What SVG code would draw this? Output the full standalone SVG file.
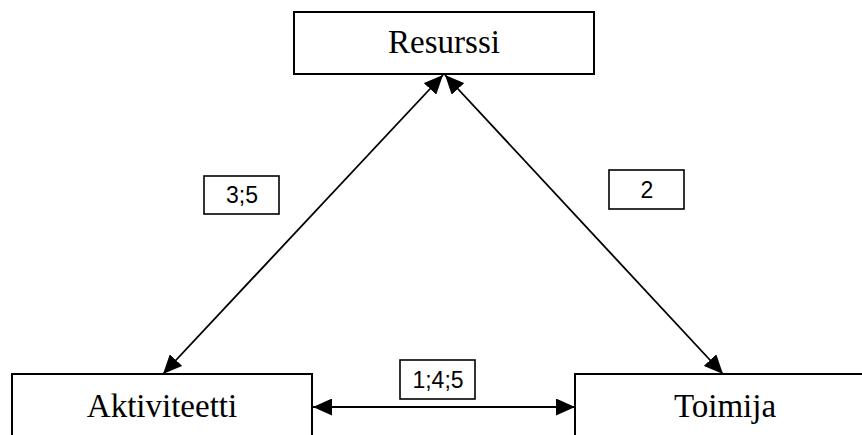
<svg xmlns="http://www.w3.org/2000/svg" width="862" height="435" viewBox="0 0 862 435">
  <style>
    .node rect { fill: #ffffff; stroke: #000000; stroke-width: 2; }
    .node text { font-family: "Liberation Serif", "Times New Roman", serif; font-size: 33px; fill: #000000; text-anchor: middle; }
    .tag rect { fill: #ffffff; stroke: #000000; stroke-width: 1.6; }
    .tag text { font-family: "Liberation Sans", Arial, sans-serif; font-size: 23px; fill: #000000; text-anchor: middle; }
    .edge { stroke: #000000; stroke-width: 1.8; fill: none; marker-start: url(#head); marker-end: url(#head); }
  </style>
  <defs>
    <marker id="head" viewBox="0 0 19 17" refX="19" refY="8.5" markerWidth="19" markerHeight="17" markerUnits="userSpaceOnUse" orient="auto-start-reverse">
      <path d="M0,0 L19,8.5 L0,17 Z" fill="#000000"/>
    </marker>
  </defs>

  <rect width="862" height="435" fill="#ffffff"/>

  <g id="connectors">
    <line class="edge" x1="163" y1="374" x2="443" y2="75"/>
    <line class="edge" x1="445" y1="75" x2="723" y2="374"/>
    <line class="edge" x1="313" y1="407" x2="575" y2="407"/>
  </g>

  <g id="resurssi" class="node">
    <rect x="294" y="12" width="300" height="62"/>
    <text x="444" y="53">Resurssi</text>
  </g>

  <g id="aktiviteetti" class="node">
    <rect x="12" y="374" width="300" height="80"/>
    <text x="162" y="417">Aktiviteetti</text>
  </g>

  <g id="toimija" class="node">
    <rect x="575" y="374" width="300" height="80"/>
    <text x="725" y="417">Toimija</text>
  </g>

  <g id="label-3-5" class="tag">
    <rect x="204" y="176" width="75" height="38"/>
    <text x="242" y="203">3;5</text>
  </g>

  <g id="label-2" class="tag">
    <rect x="609" y="170" width="75" height="39"/>
    <text x="647" y="198">2</text>
  </g>

  <g id="label-1-4-5" class="tag">
    <rect x="400" y="360" width="75" height="39"/>
    <text x="438" y="388">1;4;5</text>
  </g>
</svg>
